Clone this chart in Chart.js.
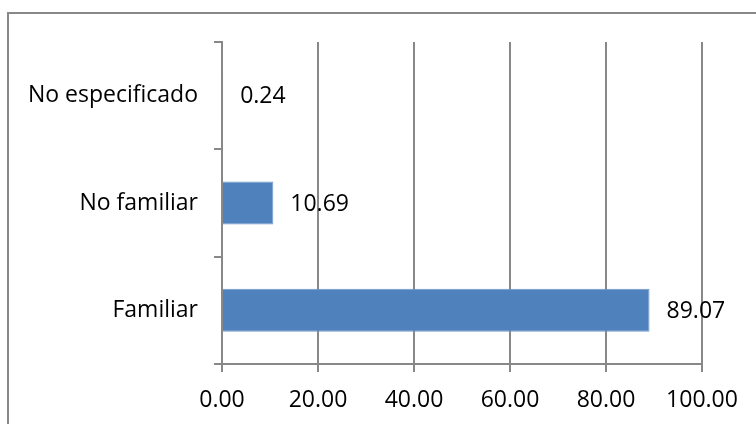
<!DOCTYPE html>
<html>
<head>
<meta charset="utf-8">
<script src="https://cdn.jsdelivr.net/npm/chart.js@4"></script>
<style>
  html, body { margin: 0; padding: 0; background: #fff; }
  #wrap { width: 756px; height: 424px; position: relative; }
</style>
</head>
<body>
<div id="wrap"><canvas id="myChart" width="756" height="424"></canvas></div>
<script>
// data
const categories = ["No especificado", "No familiar", "Familiar"];
const values = [0.24, 10.69, 89.07];
const xTicks = [0, 20, 40, 60, 80, 100];

const FONT = "'Open Sans', 'Liberation Sans', sans-serif";
const gridGrey = "#888888";

// outer frame, like the office chart border
const framePlugin = {
  id: "frame",
  beforeDraw(chart) {
    const ctx = chart.ctx;
    ctx.save();
    ctx.strokeStyle = gridGrey;
    ctx.lineWidth = 2;
    ctx.beginPath();
    ctx.moveTo(8, 424);
    ctx.lineTo(8, 13);
    ctx.lineTo(756, 13);
    ctx.stroke();
    ctx.restore();
  },
};

// value labels to the right of each bar
const valueLabels = {
  id: "valueLabels",
  afterDatasetsDraw(chart) {
    const ctx = chart.ctx;
    const meta = chart.getDatasetMeta(0);
    ctx.save();
    ctx.font = "23px " + FONT;
    ctx.fillStyle = "#000";
    ctx.textAlign = "left";
    ctx.textBaseline = "middle";
    meta.data.forEach((bar, i) => {
      ctx.fillText(values[i].toFixed(2), bar.x + 17, bar.y + 1);
    });
    ctx.restore();
  },
};

const data = {
  labels: categories,
  datasets: [
    {
      data: values,
      backgroundColor: "#4F81BD",
      borderColor: "#7098cc",
      borderWidth: 1,
      barPercentage: 0.4,
      categoryPercentage: 1,
    },
  ],
};

const config = {
  type: "bar",
  data,
  options: {
    indexAxis: "y",
    responsive: false,
    animation: false,
    layout: { padding: { left: 0, top: 42, right: 54, bottom: 0 } },
    plugins: { legend: { display: false }, tooltip: { enabled: false } },
    scales: {
      x: {
        min: 0,
        max: 100,
        afterBuildTicks(scale) {
          scale.ticks = xTicks.map((v) => ({ value: v }));
        },
        afterFit(scale) {
          scale.height = 60;
        },
        ticks: {
          callback: (v) => Number(v).toFixed(2),
          font: { family: FONT, size: 23 },
          color: "#000",
          padding: 15,
          maxRotation: 0,
        },
        grid: { color: gridGrey, lineWidth: 2, tickLength: 8 },
        border: { display: true, color: gridGrey, width: 2 },
      },
      y: {
        afterFit(scale) {
          scale.width = 222;
        },
        ticks: {
          font: { family: FONT, size: 23 },
          color: "#000",
          padding: 16,
        },
        grid: {
          drawOnChartArea: false,
          color: gridGrey,
          lineWidth: 2,
          tickLength: 8,
          offset: true,
        },
        border: { display: true, color: gridGrey, width: 2 },
      },
    },
  },
  plugins: [framePlugin, valueLabels],
};

const myChart = new Chart(document.querySelector("#myChart"), config);
</script>
</body>
</html>
